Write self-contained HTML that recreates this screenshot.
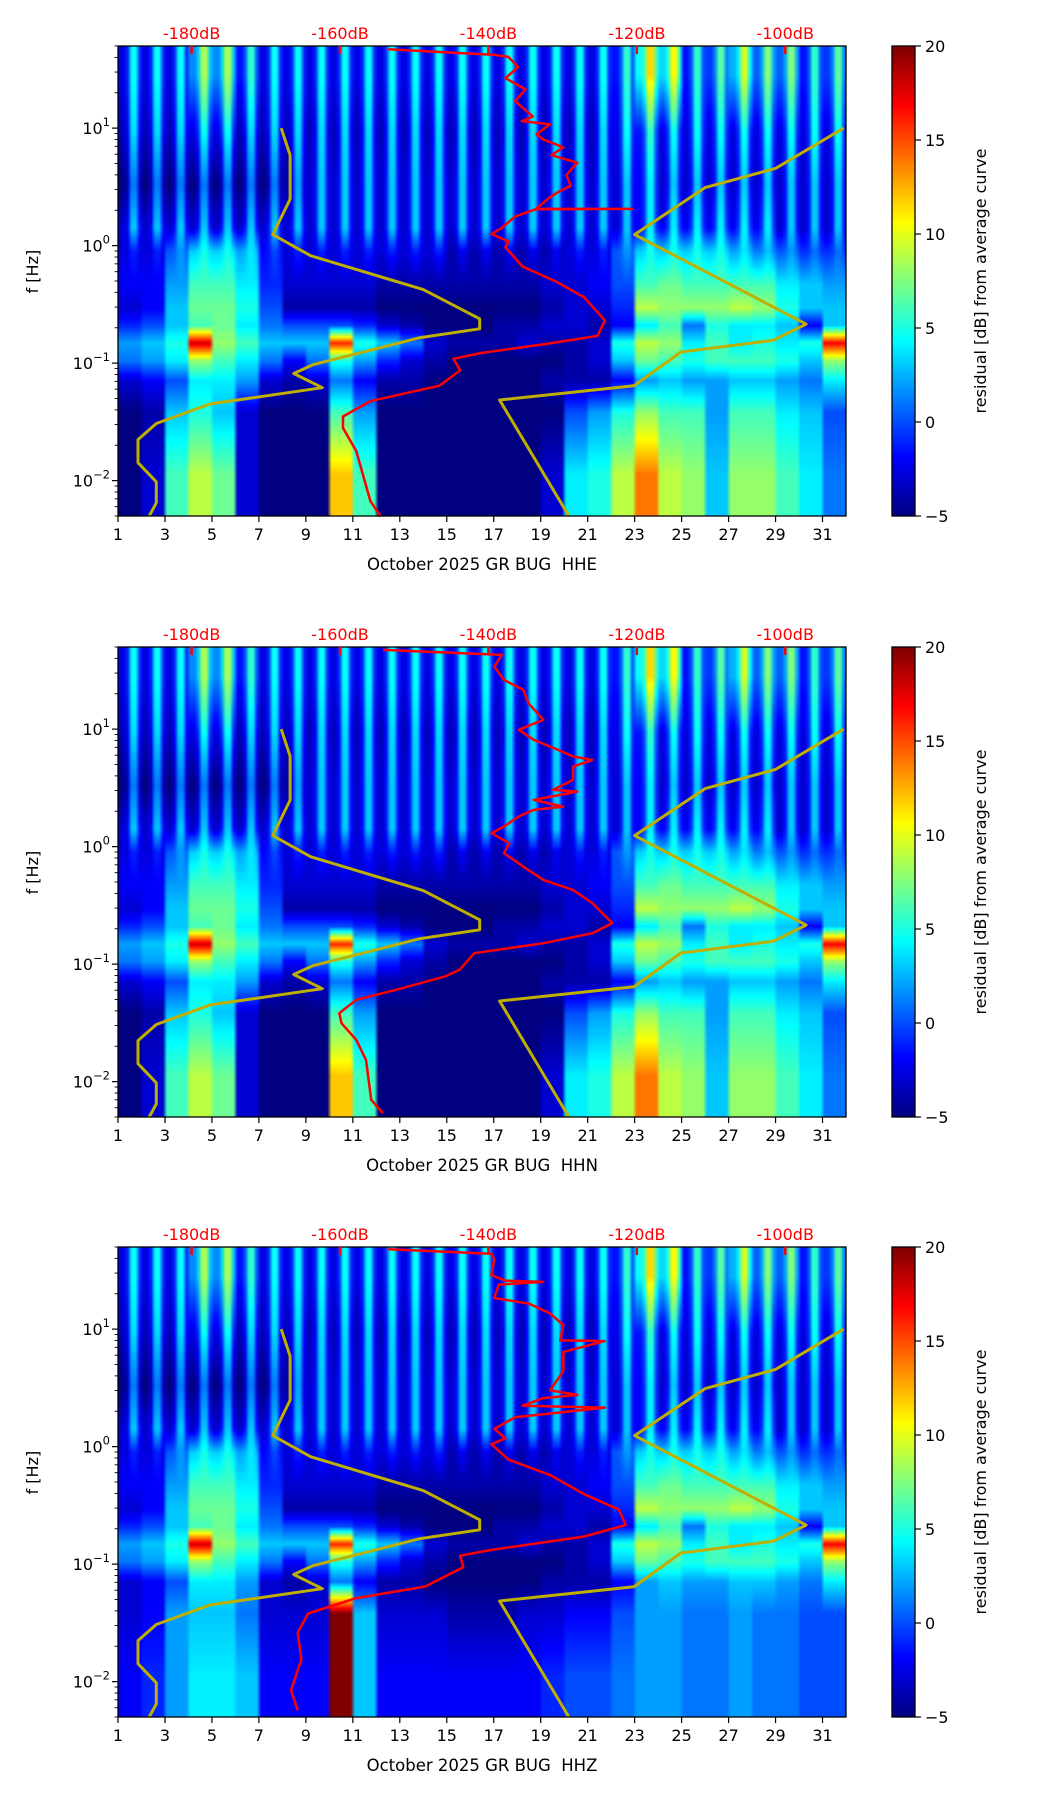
<!DOCTYPE html>
<html><head><meta charset="utf-8">
<style>
body{margin:0;background:#fff;width:1052px;height:1806px;position:relative;overflow:hidden;font-family:"DejaVu Sans","Liberation Sans",sans-serif;}
canvas{position:absolute;}
svg{position:absolute;left:0;top:0;}
text{white-space:pre;}
</style></head>
<body>
<canvas id="c0"></canvas>
<canvas id="c1"></canvas>
<canvas id="c2"></canvas>
<canvas id="cb0"></canvas>
<canvas id="cb1"></canvas>
<canvas id="cb2"></canvas>
<svg id="ov" width="1052" height="1806"></svg>
<script>
// ---------- data ----------
const panelTitles = ["October 2025 GR BUG  HHE","October 2025 GR BUG  HHN","October 2025 GR BUG  HHZ"];
const xTickDays = [1,3,5,7,9,11,13,15,17,19,21,23,25,27,29,31];
const dbTicks = [-180,-160,-140,-120,-100];
const cbTicks = [-5,0,5,10,15,20];
const yDecades = [-2,-1,0,1];
// band centers (log10 f) top->bottom
const bandLogF = [1.45,0.97,0.52,0.15,-0.05,-0.33,-0.53,-0.68,-0.83,-0.98,-1.15,-1.42,-1.95];
const bandDiurnal = [3.5,3.5,3,3,0.8,0,0,0,0,0,0,0,0];
const diurnalShape = [-1,-1,-0.5,1,1,-0.5];
const R0 = [1,1,1,5,5,2,1,1,1,1,1,1,1,1,1,1,1,1,1,1,1,2,8,7,2,3,6,4,4,2,3];
const R1 = [0,0,0,1,1,0,0,0,0,0,0,0,0,0,0,0,0,0,0,0,0,1,2,1,1,1,1,1,1,1,1];
const R2 = [-2,-2,-2,-2,-2,-2,-2,-1,0,0,0,0,0,0,0,0,0,0,0,0,0,0,1,0,0,0,0,0,0,0,0];
const R3 = [0,0,0,0,0,0,0,0,0,0,0,0,0,0,0,0,0,0,0,0,0,0,1,1,1,1,1,1,0,0,0];
const R4 = [-2,-2,1,4,4,3,-1,-2,-2,-2,-2,-2,-2,-2,-3,-3,-3,-3,-3,-2,-2,1,4,4,4,4,3,2,1,0,0];
const R5 = [-2,-2,2,6,6,4,-1,-3,-3,-3,-3,-4,-4,-4,-4,-4,-4,-4,-3,-3,-2,0,6,7,6,6,6,6,4,3,2];
const R6 = [-3,-2,3,7,7,5,0,-4,-4,-4,-4,-5,-5,-5,-5,-5,-5,-5,-4,-3,-3,-1,9,8,8,8,9,8,5,3,3];
const R7 = [-1,0,3,6,7,4,1,0,0,0,-1,-3,-4,-5,-5,-5,-4,-4,-3,-3,-4,-2,4,6,1,5,4,4,3,-2,3];
const R8 = [2,3,5,18,8,6,3,3,3,16,5,3,1,-3,-4,-4,-4,-3,-4,-4,-3,5,9,8,4,6,4,5,4,5,17];
const R9 = [1,2,4,8,6,4,1,-2,1,5,2,-1,-3,-4,-5,-5,-5,-5,-5,-4,-3,3,7,6,5,6,6,6,5,3,8];
const R10 = [-3,-2,0,4,4,2,-3,-4,-3,1,-2,-4,-4,-5,-5,-5,-5,-5,-4,-4,-4,-2,2,3,2,2,3,3,2,1,4];
const R11 = [-5,-4,3,5,3,-3,-5,-5,-5,6,2,-5,-5,-5,-5,-5,-5,-5,-5,0,2,5,8,6,6,2,6,6,4,3,0];
const R12 = [-5,-3,6,9,7,-3,-5,-5,-5,12,6,-5,-5,-5,-5,-5,-5,-5,-3,4,5,9,14,9,8,3,8,8,6,4,1];
const R11z = [-3,-2,2,3,3,1,-3,-3,-3,20,3,-3,-3,-3,-4,-4,-4,-3,-3,-2,-2,0,2,2,1,1,2,1,1,0,0];
const R12z = [-2,-1,2,4,4,3,-2,-2,-2,20,3,-2,-2,-2,-2,-2,-2,-2,-1,0,0,1,2,2,1,1,2,1,1,0,0];
// yellow reference curves (day, log10 f)
const yel1Day = [7.95,8.33,8.33,7.59,9.2,14.0,16.4,16.4,13.87,9.3,8.48,9.7,4.93,2.63,1.85,1.85,2.63,2.63,2.33];
const yel1LogF = [1.0,0.77,0.396,0.094,-0.086,-0.374,-0.623,-0.708,-0.783,-1.013,-1.088,-1.209,-1.347,-1.514,-1.651,-1.847,-2.01,-2.19,-2.301];
const yel2Day = [20.2,17.25,22.97,24.97,28.9,30.3,23.0,26.0,29.0,31.9];
const yel2LogF = [-2.301,-1.314,-1.193,-0.905,-0.806,-0.668,0.094,0.494,0.657,1.0];
// red mean PSD curves (dB, log10 f)
const redDbHHE = [-153.5,-139.2,-137.3,-136.0,-137.7,-135.0,-136.4,-134.0,-135.5,-131.7,-133.5,-132.6,-129.9,-131.5,-128.0,-129.5,-128.9,-130.5,-131.7,-133.6,-120.6,-133.6,-136.4,-138.2,-139.6,-137.3,-137.7,-135.4,-130.8,-127.1,-124.3,-125.3,-131.7,-141.0,-144.7,-143.8,-146.6,-155.9,-159.6,-159.6,-157.8,-155.9,-154.5];
const redLfHHE = [1.672,1.623,1.606,1.52,1.426,1.33,1.23,1.099,1.06,1.033,0.95,0.902,0.837,0.77,0.706,0.6,0.51,0.46,0.411,0.313,0.313,0.31,0.248,0.15,0.1,0.035,-0.014,-0.178,-0.309,-0.44,-0.636,-0.767,-0.832,-0.914,-0.963,-1.061,-1.192,-1.323,-1.454,-1.552,-1.749,-2.174,-2.306];
const redDbHHN = [-154.2,-138.2,-139.2,-137.9,-135.3,-134.6,-132.6,-135.9,-133.9,-130.6,-128.6,-126.0,-128.6,-128.6,-131.3,-128.0,-133.9,-129.9,-133.9,-135.9,-137.9,-139.6,-137.2,-137.9,-135.3,-132.6,-128.6,-126.0,-123.3,-126.0,-132.6,-141.9,-143.9,-145.9,-152.5,-157.8,-160.1,-159.8,-157.8,-156.5,-155.8,-154.2];
const redLfHHN = [1.674,1.632,1.532,1.419,1.334,1.221,1.079,0.994,0.909,0.823,0.767,0.738,0.681,0.568,0.483,0.468,0.398,0.341,0.313,0.256,0.171,0.114,0.029,-0.056,-0.17,-0.283,-0.368,-0.481,-0.651,-0.737,-0.822,-0.907,-1.049,-1.106,-1.219,-1.304,-1.418,-1.503,-1.645,-1.815,-2.155,-2.269];
const redDbHHZ = [-153.5,-139.6,-139.2,-139.6,-137.7,-132.6,-138.6,-139.2,-134.5,-131.7,-129.9,-130.3,-124.3,-129.9,-129.9,-131.7,-128.0,-132.6,-135.4,-124.3,-136.4,-139.2,-137.7,-139.6,-137.3,-131.7,-127.1,-122.4,-121.5,-127.1,-139.6,-143.8,-143.4,-148.5,-157.8,-164.3,-165.7,-165.2,-166.6,-165.7];
const redLfHHZ = [1.68,1.641,1.592,1.461,1.412,1.402,1.379,1.265,1.216,1.134,1.036,0.905,0.898,0.806,0.642,0.479,0.44,0.413,0.348,0.332,0.25,0.152,0.07,0.021,-0.11,-0.241,-0.405,-0.536,-0.667,-0.765,-0.879,-0.928,-1.027,-1.19,-1.289,-1.42,-1.583,-1.812,-2.074,-2.245];

// ---------- layout ----------
const PL=118, PR=846, PH=470, TOPS=[46,647,1247];
const DAY0=1, DAY1=32, LFMAX=Math.log10(50), LFMIN=Math.log10(0.005);
const CBL=892, CBW=23;
const xDay = d => PL + (d-DAY0)/(DAY1-DAY0)*(PR-PL);
const yLf = (lf,top) => top + (LFMAX-lf)/(LFMAX-LFMIN)*PH;
const xDb = db => 191.6 + (db+180)*7.42;
function jet(v){
  let t=Math.max(0,Math.min(1,(v+5)/25));
  const c=x=>Math.max(0,Math.min(1,x));
  return [c(1.5-Math.abs(4*t-3))*255, c(1.5-Math.abs(4*t-2))*255, c(1.5-Math.abs(4*t-1))*255];
}
const NS='http://www.w3.org/2000/svg';
const ov=document.getElementById('ov');
function el(tag,attrs,parent){const e=document.createElementNS(NS,tag);for(const k in attrs)e.setAttribute(k,attrs[k]);(parent||ov).appendChild(e);return e;}

function drawHeat(idx){
  const top=TOPS[idx];
  const rows=[R0,R1,R2,R3,R4,R5,R6,R7,R8,R9,R10, idx===2?R11z:R11, idx===2?R12z:R12];
  const cols=31*diurnalShape.length;
  const off=document.createElement('canvas');off.width=cols;off.height=PH;
  const ctx=off.getContext('2d');const img=ctx.createImageData(cols,PH);
  for(let py=0;py<PH;py++){
    const lf=LFMAX-(py+0.5)/PH*(LFMAX-LFMIN);
    let i=0;while(i<bandLogF.length-1 && bandLogF[i+1]>lf)i++;
    let j=Math.min(i+1,bandLogF.length-1), w=0;
    if(lf>=bandLogF[0]){i=j=0;} else if(lf<=bandLogF[bandLogF.length-1]){i=j=bandLogF.length-1;}
    else w=(bandLogF[i]-lf)/(bandLogF[i]-bandLogF[j]);
    for(let cx=0;cx<cols;cx++){
      const d=Math.floor(cx/diurnalShape.length), s=cx%diurnalShape.length;
      const vi=rows[i][d]+bandDiurnal[i]*diurnalShape[s];
      const vj=rows[j][d]+bandDiurnal[j]*diurnalShape[s];
      const [r,g,b]=jet(vi*(1-w)+vj*w);
      const k=(py*cols+cx)*4;img.data[k]=r;img.data[k+1]=g;img.data[k+2]=b;img.data[k+3]=255;
    }
  }
  ctx.putImageData(img,0,0);
  const cv=document.getElementById('c'+idx);
  cv.width=PR-PL;cv.height=PH;cv.style.left=PL+'px';cv.style.top=top+'px';
  const c2=cv.getContext('2d');c2.imageSmoothingEnabled=true;
  c2.drawImage(off,0,0,PR-PL,PH);
  const cb=document.getElementById('cb'+idx);
  cb.width=CBW;cb.height=PH;cb.style.left=CBL+'px';cb.style.top=top+'px';
  const cc=cb.getContext('2d');
  for(let py=0;py<PH;py++){const [r,g,b]=jet(20-py/PH*25);cc.fillStyle=`rgb(${r|0},${g|0},${b|0})`;cc.fillRect(0,py,CBW,1);}
}

function poly(xs,ys,color,width,name){
  const p=el('polyline',{points:xs.map((x,i)=>x.toFixed(1)+','+ys[i].toFixed(1)).join(' '),fill:'none',stroke:color,'stroke-width':width,'stroke-linejoin':'round'});
  
  
  return p;
}

function drawPanel(idx){
  const top=TOPS[idx], bot=top+PH;
  drawHeat(idx);
  poly(yel1Day.map(xDay),yel1LogF.map(v=>yLf(v,top)),'#bfaf00',3,'reference-curve-low');
  poly(yel2Day.map(xDay),yel2LogF.map(v=>yLf(v,top)),'#bfaf00',3,'reference-curve-high');
  const rd=[redDbHHE,redDbHHN,redDbHHZ][idx], rl=[redLfHHE,redLfHHN,redLfHHZ][idx];
  poly(rd.map(xDb),rl.map(v=>yLf(Math.min(v,LFMAX),top)),'#ff0000',2.5,'mean-psd-curve');
  const fr=el('rect',{x:PL,y:top,width:PR-PL,height:PH,fill:'none',stroke:'#000','stroke-width':1.3});
  
  
  xTickDays.forEach(d=>{
    const x=xDay(d);
    el('line',{x1:x,x2:x,y1:bot,y2:bot+6,stroke:'#000','stroke-width':1.2});
    const t=el('text',{x:x,y:bot+24,'text-anchor':'middle','font-size':16,fill:'#000'});t.textContent=d;
    
    
  });
  const xl=el('text',{x:(PL+PR)/2,y:bot+54,'text-anchor':'middle','font-size':16.5,fill:'#000'});xl.textContent=panelTitles[idx];
  
  
  for(let dec=-3;dec<=1;dec++){
    for(let m=1;m<=9;m++){
      const lf=dec+Math.log10(m);
      if(lf<LFMIN-1e-6||lf>LFMAX+1e-6)continue;
      const y=yLf(lf,top);
      el('line',{x1:PL,x2:PL-(m===1?6:3.5),y1:y,y2:y,stroke:'#000','stroke-width':m===1?1.2:0.9});
    }
  }
  yDecades.forEach(dec=>{
    const y=yLf(dec,top);
    const t=el('text',{x:PL-8,y:y+6,'text-anchor':'end','font-size':16,fill:'#000'});
    t.textContent='10';
    const s=el('tspan',{dy:-8,'font-size':11.5},t);s.textContent=dec<0?'\u2212'+(-dec):String(dec);
    
    
  });
  const yt=el('text',{x:0,y:0,'text-anchor':'middle','font-size':16,fill:'#000',transform:`translate(38,${top+PH*0.48}) rotate(-90)`});yt.textContent='f [Hz]';
  
  
  dbTicks.forEach(db=>{
    const x=xDb(db);
    el('line',{x1:x,x2:x,y1:top,y2:top+8,stroke:'#ff0000','stroke-width':2.5});
    const t=el('text',{x:x,y:top-7,'text-anchor':'middle','font-size':16,fill:'#ff0000'});t.textContent=db+'dB';
    
    
  });
  const cf=el('rect',{x:CBL,y:top,width:CBW,height:PH,fill:'none',stroke:'#000','stroke-width':1.3});
  
  
  cbTicks.forEach(v=>{
    const y=top+(20-v)/25*PH;
    el('line',{x1:CBL+CBW,x2:CBL+CBW+6,y1:y,y2:y,stroke:'#000','stroke-width':1.2});
    const t=el('text',{x:CBL+CBW+10,y:y+6,'font-size':16,fill:'#000'});t.textContent=v<0?'\u2212'+(-v):String(v);
    
    
  });
  const cl=el('text',{x:0,y:0,'text-anchor':'middle','font-size':16,fill:'#000',transform:`translate(986,${top+PH/2}) rotate(-90)`});cl.textContent='residual [dB] from average curve';
  
  
}
[0,1,2].forEach(drawPanel);
</script>
</body></html>
